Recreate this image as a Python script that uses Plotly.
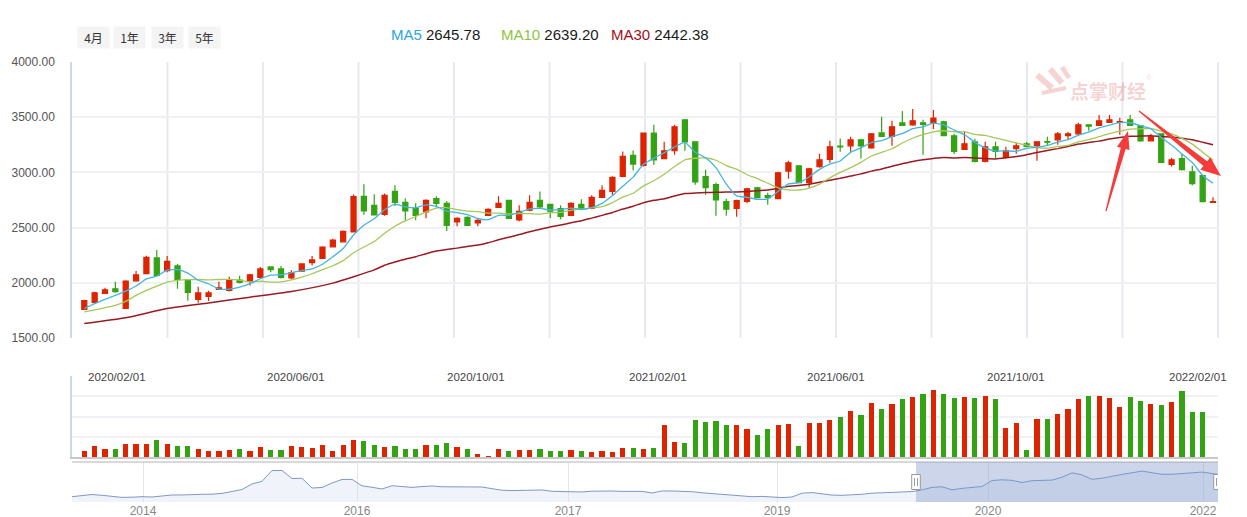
import math
import pandas as pd
import plotly.graph_objects as go

# ---------------- data ----------------
dates = pd.date_range("2020-01-31", periods=110, freq="7D")

opens = [1760, 1823, 1904, 1946, 1769, 2018, 2084, 2225, 2111, 2153,
         2030, 1850, 1877, 1940, 1931, 2024, 2015, 2048, 2144, 2126,
         2045, 2105, 2183, 2222, 2326, 2371, 2461, 2783, 2702, 2620,
         2828, 2729, 2675, 2642, 2762, 2720, 2551, 2593, 2542, 2611,
         2684, 2747, 2569, 2657, 2747, 2711, 2672, 2611, 2711, 2675,
         2774, 2828, 2964, 3154, 3063, 3355, 3124, 3196, 3476, 3277,
         2961, 2889, 2735, 2675, 2738, 2861, 2789, 2762, 3012, 3060,
         2907, 3051, 3117, 3238, 3241, 3295, 3223, 3358, 3325, 3449,
         3431, 3449, 3446, 3458, 3331, 3208, 3277, 3099, 3232, 3136,
         3214, 3259, 3241, 3280, 3295, 3334, 3349, 3431, 3425, 3452,
         3452, 3476, 3422, 3286, 3349, 3072, 3124, 3006, 2970, 2729]
highs = [1847, 1919, 1955, 2009, 2024, 2108, 2246, 2296, 2243, 2171,
         2030, 1964, 1928, 2009, 2054, 2063, 2081, 2144, 2150, 2153,
         2114, 2171, 2243, 2332, 2398, 2473, 2799, 2892, 2801, 2810,
         2883, 2765, 2720, 2756, 2783, 2741, 2593, 2602, 2584, 2675,
         2783, 2747, 2702, 2792, 2828, 2711, 2702, 2729, 2756, 2792,
         2883, 2964, 3190, 3199, 3361, 3431, 3277, 3431, 3476, 3277,
         3024, 2907, 2762, 2753, 2861, 2870, 2816, 3006, 3105, 3060,
         3042, 3169, 3286, 3307, 3322, 3304, 3358, 3503, 3467, 3557,
         3575, 3476, 3566, 3467, 3349, 3367, 3304, 3277, 3277, 3232,
         3268, 3277, 3277, 3322, 3367, 3367, 3449, 3431, 3521, 3521,
         3494, 3521, 3422, 3349, 3349, 3133, 3169, 3060, 2979, 2774]
lows = [1754, 1820, 1904, 1910, 1766, 2009, 2081, 2063, 2096, 1946,
        1838, 1820, 1835, 1937, 1922, 1997, 1976, 2036, 2096, 2039,
        2033, 2099, 2156, 2216, 2320, 2365, 2458, 2617, 2614, 2608,
        2696, 2566, 2566, 2584, 2681, 2470, 2512, 2521, 2512, 2611,
        2684, 2584, 2557, 2648, 2678, 2587, 2575, 2608, 2657, 2666,
        2774, 2792, 2955, 3018, 3054, 3069, 3124, 3160, 3196, 2889,
        2798, 2608, 2608, 2599, 2720, 2771, 2708, 2762, 2943, 2907,
        2861, 3042, 3087, 3187, 3187, 3127, 3214, 3325, 3241, 3425,
        3422, 3160, 3392, 3334, 3166, 3208, 3090, 3090, 3127, 3127,
        3169, 3235, 3105, 3241, 3250, 3295, 3334, 3377, 3425, 3449,
        3340, 3425, 3277, 3286, 3090, 3054, 3018, 2883, 2735, 2729]
closes = [1838, 1910, 1937, 1919, 2015, 2072, 2231, 2066, 2195, 2030,
          1913, 1910, 1910, 1955, 2027, 2003, 2072, 2126, 2120, 2048,
          2090, 2171, 2207, 2323, 2386, 2467, 2781, 2651, 2614, 2792,
          2729, 2651, 2611, 2747, 2720, 2521, 2584, 2521, 2566, 2666,
          2720, 2584, 2648, 2729, 2687, 2648, 2602, 2720, 2666, 2774,
          2837, 2955, 3145, 3075, 3357, 3114, 3196, 3413, 3277, 2913,
          2861, 2750, 2666, 2744, 2852, 2771, 2771, 2997, 3087, 2907,
          3033, 3114, 3232, 3232, 3295, 3241, 3349, 3325, 3413, 3425,
          3467, 3434, 3491, 3334, 3190, 3259, 3099, 3232, 3190, 3196,
          3241, 3235, 3277, 3274, 3349, 3349, 3431, 3419, 3467, 3476,
          3461, 3425, 3286, 3322, 3090, 3114, 3024, 2898, 2735, 2735]
volumes = [6, 11, 8, 8, 13, 13, 13, 17, 13, 11,
           11, 8, 6, 6, 7, 8, 6, 10, 7, 7,
           11, 10, 9, 12, 6, 12, 17, 16, 12, 10,
           11, 8, 8, 12, 12, 14, 10, 8, 3, 1,
           8, 6, 7, 7, 8, 6, 6, 7, 6, 5,
           6, 5, 9, 9, 8, 9, 32, 15, 14, 37,
           35, 36, 32, 32, 28, 22, 28, 32, 33, 11,
           34, 34, 37, 40, 46, 42, 54, 48, 53, 58,
           60, 63, 67, 63, 59, 60, 59, 61, 58, 29,
           34, 7, 38, 38, 43, 48, 58, 61, 61, 59,
           50, 60, 56, 53, 52, 55, 66, 45, 45, 0]

# moving-average values read from the picture where the window is not yet full
ma5_head = [1766, 1811, 1850, 1886]
ma10_head = [1737, 1754, 1775, 1796, 1832, 1886, 1931, 1970, 2006]
ma30_head_idx = [0, 4, 8, 12, 16, 20, 24, 28]
ma30_head = [1631, 1683, 1767, 1818, 1870, 1921, 1997, 2117]

legend_names = ["MA5", "MA10", "MA30"]
legend_values = ["2645.78", "2639.20", "2442.38"]

date_label_dates = ["2020-02-01", "2020-06-01", "2020-10-01", "2021-02-01",
                    "2021-06-01", "2021-10-01", "2022-02-01"]
date_label_text = ["2020/02/01", "2020/06/01", "2020/10/01", "2021/02/01",
                   "2021/06/01", "2021/10/01", "2022/02/01"]

range_buttons = ["4月", "1年", "3年", "5年"]

nav_values = [1330, 1445, 1511, 1445, 1346, 1272, 1289, 1330, 1305, 1404,
              1470, 1470, 1470, 1528, 1536, 1602, 1759, 1924, 2378, 2600,
              3491, 3491, 2831, 2848, 2048, 2089, 2460, 2749, 2757, 2229,
              2105, 1965, 2237, 2180, 2097, 2163, 2213, 2147, 2130, 2130,
              2130, 2130, 1990, 1866, 1833, 1866, 1899, 1883, 1775, 1759,
              1751, 1718, 1784, 1817, 1800, 1767, 1742, 1767, 1635, 1800,
              1800, 1775, 1742, 1652, 1586, 1544, 1495, 1412, 1330, 1355,
              1305, 1256, 1305, 1619, 1668, 1553, 1462, 1445, 1470, 1528,
              1619, 1660, 1660, 1693, 1751, 1891, 2097, 2147, 1899, 2015,
              2064, 2171, 2666, 2724, 2675, 2501, 2650, 2650, 2699, 2939,
              3302, 3128, 2765, 2856, 3038, 3170, 3302, 3442, 3310, 3178,
              3178, 3236, 3310, 3360, 3244, 3120]
nav_tick_text = ["2014", "2016", "2017", "2019", "2020", "2022"]
nav_tick_pos = [7.1, 28.5, 49.6, 70.5, 91.6, 113.1]
nav_window = [84.4, 114.6]

# ---------------- styles ----------------
RED = "#dd2400"
GREEN = "#33a314"
C_MA5 = "#45b5e0"
C_MA10 = "#a6c85a"
C_MA30 = "#9a1a22"
L_MA5 = "#2ba6de"
L_MA10 = "#8dc441"
L_MA30 = "#a10f1a"
FONT = "Liberation Sans, Arial, sans-serif"
CJK = "Noto Sans CJK SC"

W, H = 1247, 517
ML, MR = 72, 29
PW = W - ML - MR


def px2paper(px, py):
    return (px - ML) / PW, 1 - py / H


# ---------------- derived series ----------------
s = pd.Series(closes, dtype=float)
ma5 = s.rolling(5).mean().tolist()
ma5[:len(ma5_head)] = ma5_head
ma10 = s.rolling(10).mean().tolist()
ma10[:len(ma10_head)] = ma10_head
ma30_full = s.rolling(30).mean().tolist()
ma30_x = [dates[i] for i in ma30_head_idx] + list(dates[29:])
ma30_y = ma30_head + ma30_full[29:]

vol_colors = [RED if c >= o else GREEN for o, c in zip(opens, closes)]

fig = go.Figure()

fig.add_trace(go.Candlestick(
    x=dates, open=opens, high=highs, low=lows, close=closes,
    increasing=dict(line=dict(color=RED, width=1.2), fillcolor=RED),
    decreasing=dict(line=dict(color=GREEN, width=1.2), fillcolor=GREEN),
    xaxis="x", yaxis="y", name="K"))

for name, xs, ys, col, wd in [("MA30", ma30_x, ma30_y, C_MA30, 1.5),
                              ("MA10", list(dates), ma10, C_MA10, 1.3),
                              ("MA5", list(dates), ma5, C_MA5, 1.3)]:
    fig.add_trace(go.Scatter(x=xs, y=ys, mode="lines", name=name,
                             line=dict(color=col, width=wd, shape="spline", smoothing=0.5),
                             xaxis="x", yaxis="y"))

fig.add_trace(go.Bar(x=dates, y=volumes, marker=dict(color=vol_colors, line=dict(width=0)),
                     width=[3.5 * 86400000] * len(dates), xaxis="x2", yaxis="y2", name="VOL"))

fig.add_trace(go.Scatter(x=list(range(len(nav_values))), y=nav_values, mode="lines",
                         line=dict(color="#7f98c6", width=1), fill="tozeroy",
                         fillcolor="rgba(213,224,240,0.35)", xaxis="x3", yaxis="y3",
                         name="nav"))

# ---------------- layout ----------------
y_main = [1 - 338 / H, 1 - 62 / H]
y_vol = [1 - 457 / H, 1 - 376 / H]
y_nav = [1 - 502 / H, 1 - 462 / H]
xr = ["2020-01-22 16:30:00", "2022-03-07 09:00:00"]

fig.update_layout(
    width=W, height=H, margin=dict(l=ML, r=MR, t=0, b=0, pad=0, autoexpand=False),
    paper_bgcolor="white", plot_bgcolor="white", showlegend=False,
    font=dict(family=FONT, size=12, color="#555"),
    xaxis=dict(domain=[0, 1], anchor="y", type="date", range=xr, showticklabels=False,
               showgrid=False, zeroline=False, rangeslider=dict(visible=False), fixedrange=True,
               automargin=False),
    yaxis=dict(domain=y_main, anchor="x", range=[1500, 4000], dtick=500, tick0=1500,
               tickformat=".2f", gridcolor="#eff1f4", gridwidth=1.5, zeroline=False,
               showline=True, linecolor="#cfd8e6", linewidth=1.5, ticks="outside",
               ticklen=13, tickcolor="rgba(0,0,0,0)", tickfont=dict(size=12, color="#555"),
               automargin=False),
    xaxis2=dict(domain=[0, 1], anchor="y2", type="date", range=xr, showticklabels=False,
                showgrid=False, zeroline=False, showline=True, linecolor="#c8c8c8", linewidth=1.5,
                automargin=False),
    yaxis2=dict(domain=y_vol, anchor="x2", range=[0, 81], tickvals=[0, 20.25, 40.5, 60.75, 81],
                showticklabels=False, gridcolor="#f0f1f4", gridwidth=1.5, zeroline=False,
                showline=True, linecolor="#cfd8e6", linewidth=1.5, automargin=False),
    xaxis3=dict(domain=[0, 1], anchor="y3", range=[0, 114.6], tickvals=nav_tick_pos,
                ticktext=nav_tick_text, showgrid=True, gridcolor="#e6e6e6", zeroline=False,
                ticks="", tickfont=dict(size=12, color="#888"), automargin=False),
    yaxis3=dict(domain=y_nav, anchor="x3", range=[892, 4192], showticklabels=False,
                showgrid=False, zeroline=False, automargin=False),
    bargap=0,
)

shapes = []
# vertical grid lines of the price panel (12 equal divisions)
for k in range(1, 13):
    shapes.append(dict(type="line", xref="x domain", yref="y domain", x0=k / 12, x1=k / 12,
                       y0=0, y1=1, line=dict(color="#e6eaf0", width=2), layer="below"))
# navigator top border
shapes.append(dict(type="line", xref="paper", yref="y3 domain", x0=0, x1=1, y0=1, y1=1,
                   line=dict(color="#cccccc", width=1.5)))
# navigator window
shapes.append(dict(type="rect", xref="x3", yref="y3 domain", x0=nav_window[0], x1=nav_window[1],
                   y0=0, y1=1, fillcolor="rgba(128,150,203,0.40)", line=dict(width=0),
                   layer="above"))
ymid = (892 + 4192) / 2
for xa in nav_window:
    shapes.append(dict(type="rect", xref="x3", yref="y3", xsizemode="pixel", ysizemode="pixel",
                       xanchor=xa, yanchor=ymid, x0=-4.3, x1=4.3, y0=-7.5, y1=7.5,
                       fillcolor="white", line=dict(color="#9a9a9a", width=1), layer="above"))
    for dx in (-1.5, 1.5):
        shapes.append(dict(type="line", xref="x3", yref="y3", xsizemode="pixel",
                           ysizemode="pixel", xanchor=xa, yanchor=ymid, x0=dx, x1=dx,
                           y0=-4, y1=4, line=dict(color="#9a9a9a", width=1), layer="above"))


def arrow_path(tx, ty, hx, hy, head_len, head_w, tail_w, neck_w):
    dx, dy = hx - tx, hy - ty
    L = math.hypot(dx, dy)
    ux, uy = dx / L, dy / L
    nx, ny = -uy, ux
    bx, by = hx - ux * head_len, hy - uy * head_len
    pts = [(tx + nx * tail_w, ty + ny * tail_w), (bx + nx * neck_w, by + ny * neck_w),
           (bx + nx * head_w, by + ny * head_w), (hx, hy),
           (bx - nx * head_w, by - ny * head_w), (bx - nx * neck_w, by - ny * neck_w),
           (tx - nx * tail_w, ty - ny * tail_w)]
    pp = [px2paper(px, py) for px, py in pts]
    return "M " + " L ".join(f"{x:.5f},{y:.5f}" for x, y in pp) + " Z"


ARROW = "#f43c3c"
shapes.append(dict(type="path", xref="paper", yref="paper",
                   path=arrow_path(1106, 211, 1128, 131, 18, 6.5, 0.6, 2.5),
                   fillcolor=ARROW, line=dict(width=0), layer="above"))
shapes.append(dict(type="path", xref="paper", yref="paper",
                   path=arrow_path(1139, 111, 1221, 176, 20, 8, 0.6, 3),
                   fillcolor=ARROW, line=dict(width=0), layer="above"))

# faint watermark logo (hand-like brush strokes)
WM = "rgba(225,100,100,0.28)"
for (ax0, ay0), (ax1, ay1), wd in [((1037, 75), (1052, 88), 6),
                                   ((1050, 69), (1062, 83), 6),
                                   ((1062, 67), (1069, 78), 5),
                                   ((1042, 93), (1066, 88), 4)]:
    p0 = px2paper(ax0, ay0)
    p1 = px2paper(ax1, ay1)
    shapes.append(dict(type="line", xref="paper", yref="paper", x0=p0[0], y0=p0[1],
                       x1=p1[0], y1=p1[1], line=dict(color=WM, width=wd), layer="below"))

fig.update_layout(shapes=shapes)

ann = []
for d, t in zip(date_label_dates, date_label_text):
    ann.append(dict(x=d, y=1, xref="x2", yref="y2 domain", text=t, showarrow=False,
                    xanchor="left", yanchor="middle", yshift=-1,
                    font=dict(family=FONT, size=11.5, color="#444")))

leg_x = [389, 499, 609]
for name, val, px, col in zip(legend_names, legend_values, leg_x, [L_MA5, L_MA10, L_MA30]):
    x, y = px2paper(px, 35)
    ann.append(dict(x=x, y=y, xref="paper", yref="paper", xanchor="left", yanchor="middle",
                    showarrow=False,
                    text=f'<span style="color:{col}">{name}</span> <span style="color:#1a1a1a">{val}</span>',
                    font=dict(family=FONT, size=15)))

for lbl, cxp in zip(range_buttons, [93, 129.5, 167, 204]):
    x, y = px2paper(cxp, 37.5)
    ann.append(dict(x=x, y=y, xref="paper", yref="paper", xanchor="center", yanchor="middle",
                    showarrow=False, text=lbl, width=29, height=19, borderpad=1,
                    bgcolor="#f4f4f4", font=dict(family=CJK, size=12, color="#333")))

x, y = px2paper(1108, 90)
ann.append(dict(x=x, y=y, xref="paper", yref="paper", xanchor="center", yanchor="middle",
                showarrow=False, text="<b>点掌财经</b>",
                font=dict(family=CJK, size=19, color=WM)))
x, y = px2paper(1149, 77)
ann.append(dict(x=x, y=y, xref="paper", yref="paper", xanchor="center", yanchor="middle",
                showarrow=False, text="®", font=dict(family=FONT, size=8, color=WM)))

fig.update_layout(annotations=ann)

fig.write_html(
    "out.html", config={"displayModeBar": False},
    post_script=("document.documentElement.style.margin='0';"
                 "document.body.style.margin='0';document.body.style.padding='0';"
                 "document.body.style.overflow='hidden';"
                 "var d=document.getElementById('{plot_id}');"
                 "d.style.position='fixed';d.style.left='0px';d.style.top='0px';"))
